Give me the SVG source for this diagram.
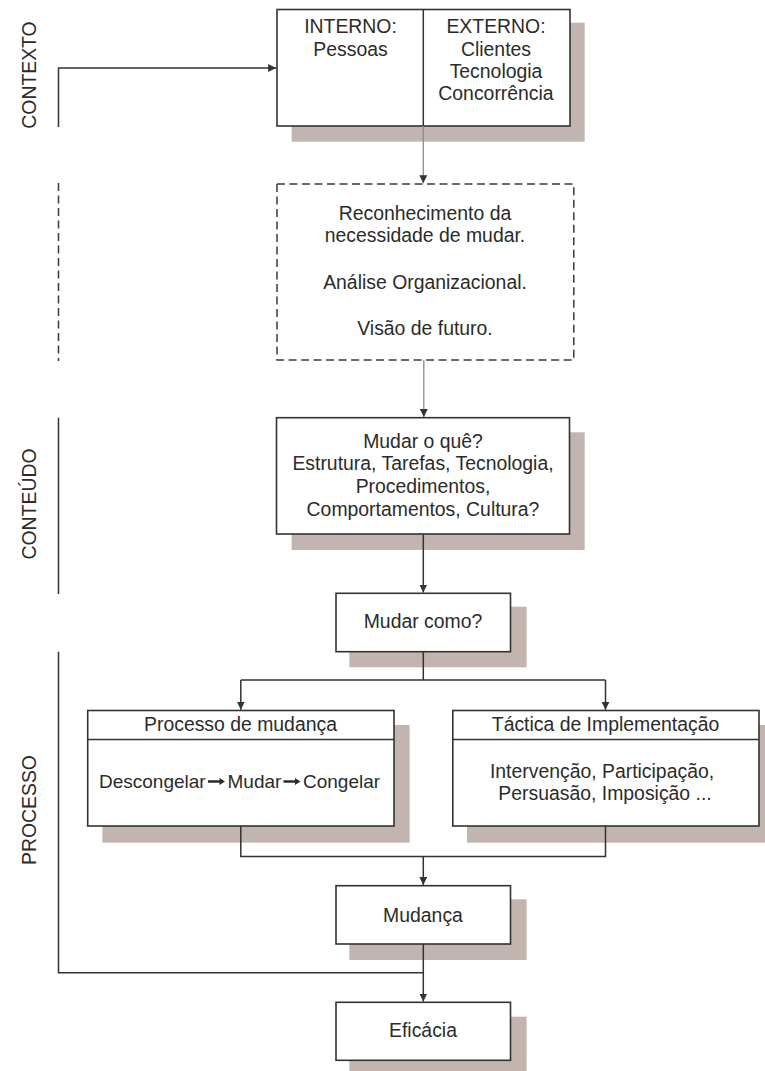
<svg xmlns="http://www.w3.org/2000/svg" width="765" height="1071" viewBox="0 0 765 1071">
<style>
  text{font-family:"Liberation Sans",Arial,sans-serif;font-size:19.4px;fill:#2b2b2b;text-anchor:middle}
  .box{fill:#fff;stroke:#333;stroke-width:1.6}
  .dbox{fill:#fff;stroke:#3a3a3a;stroke-width:1.5;stroke-dasharray:8 4.5}
  .sh{fill:#c2b4af}
  .ln{fill:none;stroke:#333;stroke-width:1.5}
  .lg{fill:none;stroke:#8c8c8c;stroke-width:1.3}
  .dl{fill:none;stroke:#3a3a3a;stroke-width:1.5;stroke-dasharray:8 4.5}
  .arr{fill:#2b2b2b}
</style>
<defs>
  <marker id="ah" viewBox="0 0 10 10" refX="10" refY="5" markerWidth="8" markerHeight="8" markerUnits="userSpaceOnUse" orient="auto">
    <path d="M0,0 L10,5 L0,10 z" fill="#333"/>
  </marker>
</defs>
<rect width="765" height="1071" fill="#fff"/>

<g id="labels">
  <text transform="translate(35.5,75) rotate(-90)">CONTEXTO</text>
  <text transform="translate(35.5,504) rotate(-90)">CONTEÚDO</text>
  <text transform="translate(35.5,810) rotate(-90)">PROCESSO</text>
  <path class="dl" d="M58.5,183 V361"/>
  <path class="ln" d="M58.5,417.7 V594"/>
</g>

<g id="contexto">
  <rect class="sh" x="291.6" y="22.7" width="293.1" height="119"/>
  <rect class="box" x="277" y="9.5" width="293" height="116.5"/>
  <line class="ln" x1="423.3" y1="9.5" x2="423.3" y2="126"/>
  <text x="350.5" y="33.3">INTERNO:</text>
  <text x="350.5" y="55.5">Pessoas</text>
  <text x="496" y="33.3">EXTERNO:</text>
  <text x="496" y="55.5">Clientes</text>
  <text x="496" y="77.8">Tecnologia</text>
  <text x="496" y="100">Concorrência</text>
</g>

<g id="analise">
  <rect class="dbox" x="277" y="184" width="296.8" height="176"/>
  <text x="425" y="219.5">Reconhecimento da</text>
  <text x="425" y="241.8">necessidade de mudar.</text>
  <text x="425" y="288.5">Análise Organizacional.</text>
  <text x="425" y="335">Visão de futuro.</text>
</g>

<g id="mudar-oque">
  <rect class="sh" x="291.6" y="432.3" width="293.1" height="117.7"/>
  <rect class="box" x="276.5" y="417.7" width="293" height="116.3"/>
  <text x="423" y="448.3">Mudar o quê?</text>
  <text x="423" y="470.3">Estrutura, Tarefas, Tecnologia,</text>
  <text x="423" y="492.8">Procedimentos,</text>
  <text x="423" y="515.5">Comportamentos, Cultura?</text>
</g>

<g id="mudar-como">
  <rect class="sh" x="349.4" y="606.7" width="177.2" height="60.6"/>
  <rect class="box" x="336" y="593.3" width="174.5" height="58.4"/>
  <text x="423" y="628.3">Mudar como?</text>
</g>

<g id="processo-mudanca">
  <rect class="sh" x="102.4" y="725" width="307.2" height="117.7"/>
  <rect class="box" x="87.7" y="710.5" width="306.3" height="115.5"/>
  <line class="ln" x1="87.7" y1="739.5" x2="394" y2="739.5"/>
  <text x="240.5" y="731">Processo de mudança</text>
  <text x="99" y="788.3" style="text-anchor:start;font-size:19px">Descongelar</text>
  <path class="arr" d="M208,780.3 H219.5 V778 L225,781.5 L219.5,785 V782.7 H208 Z"/>
  <text x="227.5" y="788.3" style="text-anchor:start;font-size:19px">Mudar</text>
  <path class="arr" d="M283.5,780.3 H295 V778 L300.5,781.5 L295,785 V782.7 H283.5 Z"/>
  <text x="303" y="788.3" style="text-anchor:start;font-size:19px">Congelar</text>
</g>

<g id="tactica">
  <rect class="sh" x="467" y="725" width="298" height="117.7"/>
  <rect class="box" x="452.8" y="710.5" width="306.2" height="115.5"/>
  <line class="ln" x1="452.8" y1="739.5" x2="759" y2="739.5"/>
  <text x="605.5" y="731">Táctica de Implementação</text>
  <text x="602" y="778.4">Intervenção, Participação,</text>
  <text x="605" y="800.4">Persuasão, Imposição ...</text>
</g>

<g id="mudanca">
  <rect class="sh" x="349.4" y="899.3" width="177.2" height="60.7"/>
  <rect class="box" x="336" y="885.7" width="174.5" height="58.3"/>
  <text x="423" y="921.7">Mudança</text>
</g>

<g id="eficacia">
  <rect class="sh" x="349.4" y="1016.7" width="177.2" height="60"/>
  <rect class="box" x="336" y="1002.3" width="174.5" height="58"/>
  <text x="423" y="1036.7">Eficácia</text>
</g>

<g id="connectors">
  <path class="ln" d="M58.5,127 V68 H276.2" marker-end="url(#ah)"/>
  <path class="lg" d="M423.3,126 V183.2" marker-end="url(#ah)"/>
  <path class="lg" d="M423.8,360 V416.9" marker-end="url(#ah)"/>
  <path class="ln" d="M423.3,534 V592.5" marker-end="url(#ah)"/>
  <path class="ln" d="M423.3,651.7 V680 M240.8,680 H605.5"/>
  <path class="ln" d="M240.8,680 V709.7" marker-end="url(#ah)"/>
  <path class="ln" d="M605.5,680 V709.7" marker-end="url(#ah)"/>
  <path class="ln" d="M240.8,826 V856.5 H605.5 V826"/>
  <path class="ln" d="M423.3,856.5 V884.9" marker-end="url(#ah)"/>
  <path class="ln" d="M423.3,944 V1001.5" marker-end="url(#ah)"/>
  <path class="ln" d="M58.5,651.7 V972.7 H423.3"/>
</g>
</svg>
